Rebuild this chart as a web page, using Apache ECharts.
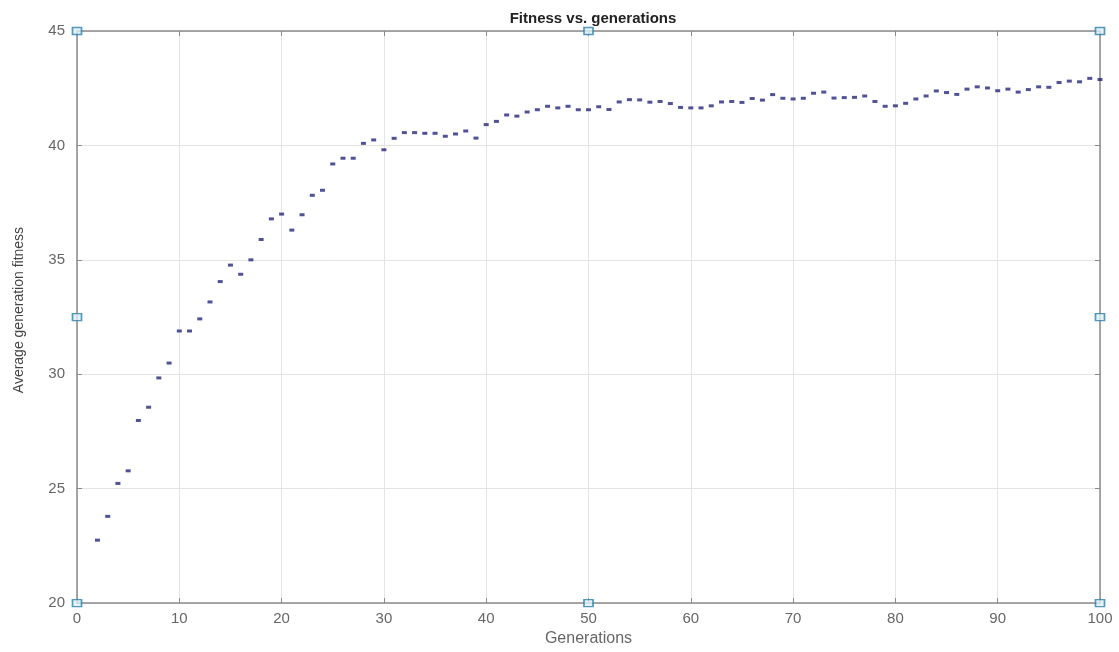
<!DOCTYPE html>
<html><head><meta charset="utf-8">
<script src="https://cdn.jsdelivr.net/npm/echarts@6/dist/echarts.min.js"></script>
<style>html,body{margin:0;padding:0;background:#fff;overflow:hidden}#c{width:1119px;height:652px}</style>
</head><body><div id="c"></div>
<script>
const generations = [];
for (let g = 2; g <= 100; g++) generations.push(g);
const fitness = [
22.75, 23.79, 25.23, 25.78, 27.98, 28.56, 29.84, 30.49, 31.89,
31.89, 32.42, 33.16, 34.05, 34.77, 34.37, 35.00, 35.89, 36.79, 37.00,
36.30, 36.97, 37.82, 38.04, 39.19, 39.44, 39.44, 40.09, 40.24, 39.81,
40.31, 40.56, 40.56, 40.53, 40.53, 40.40, 40.50, 40.63, 40.32, 40.91,
41.05, 41.33, 41.28, 41.46, 41.56, 41.71, 41.64, 41.71, 41.56, 41.56,
41.69, 41.57, 41.90, 42.00, 41.99, 41.89, 41.92, 41.83, 41.66, 41.64,
41.64, 41.73, 41.90, 41.92, 41.88, 42.05, 41.98, 42.22, 42.06, 42.03,
42.06, 42.28, 42.33, 42.07, 42.09, 42.10, 42.16, 41.92, 41.71, 41.73,
41.84, 42.03, 42.16, 42.38, 42.31, 42.23, 42.46, 42.56, 42.51, 42.39,
42.46, 42.33, 42.44, 42.56, 42.54, 42.75, 42.81, 42.78, 42.93, 42.88
];
const xTicks = [0,10,20,30,40,50,60,70,80,90,100];
const yTicks = [20,25,30,35,40,45];
const handles = [[0,45],[0,32.5],[0,20],[50,45],[50,20],[100,45],[100,32.5],[100,20]];

const axisGray = '#8a8a8a';
const labelGray = '#666';
const chart = echarts.init(document.getElementById('c'), null, {renderer:'canvas', width:1119, height:652});
const common = {
  axisLine:{show:true, onZero:false, lineStyle:{color:axisGray, width:1.5}},
  axisTick:{show:true, inside:true, length:5, lineStyle:{color:axisGray}}
};
chart.setOption({
  animation:false,
  title:{text:'Fitness vs. generations', left:588, top:6, textAlign:'center',
    textStyle:{fontFamily:'Liberation Sans, Arial, sans-serif', fontSize:15, fontWeight:'bold', color:'#222'}},
  grid:{left:77, top:31, width:1023, height:578, containLabel:false},
  xAxis:[
    Object.assign({type:'value', min:xTicks[0], max:xTicks[xTicks.length-1], interval:10, position:'bottom',
      name:'Generations', nameLocation:'middle', nameGap:27,
      nameTextStyle:{fontFamily:'Liberation Sans, Arial, sans-serif', fontSize:16, color:labelGray},
      axisLabel:{fontFamily:'Liberation Sans, Arial, sans-serif', fontSize:15, color:labelGray, margin:8},
      splitLine:{show:true, lineStyle:{color:'#e4e4e4', width:1}}}, common),
    Object.assign({type:'value', min:xTicks[0], max:xTicks[xTicks.length-1], interval:10, position:'top',
      axisLabel:{show:false}, splitLine:{show:false}}, common)
  ],
  yAxis:[
    Object.assign({type:'value', min:yTicks[0], max:yTicks[yTicks.length-1], interval:5, position:'left',
      name:'Average generation fitness', nameLocation:'middle', nameGap:51, nameRotate:90,
      nameTextStyle:{fontFamily:'Liberation Sans, Arial, sans-serif', fontSize:14, color:'#444', padding:[0,0,0,14]},
      axisLabel:{fontFamily:'Liberation Sans, Arial, sans-serif', fontSize:15, color:labelGray, margin:12},
      splitLine:{show:true, lineStyle:{color:'#e4e4e4', width:1}}}, common),
    Object.assign({type:'value', min:yTicks[0], max:yTicks[yTicks.length-1], interval:5, position:'right',
      axisLabel:{show:false}, splitLine:{show:false}}, common)
  ],
  series:[
    {type:'scatter', data:generations.map((g,i)=>[g, fitness[i]]),
      symbol:'rect', symbolSize:[5,3], itemStyle:{color:'#25257a'}, z:3},
    {type:'scatter', data:handles, symbol:'rect', symbolSize:[9,7],
      itemStyle:{color:'#dff0f8', borderColor:'#2b7fad', borderWidth:1.5}, z:5}
  ]
});
</script></body></html>
